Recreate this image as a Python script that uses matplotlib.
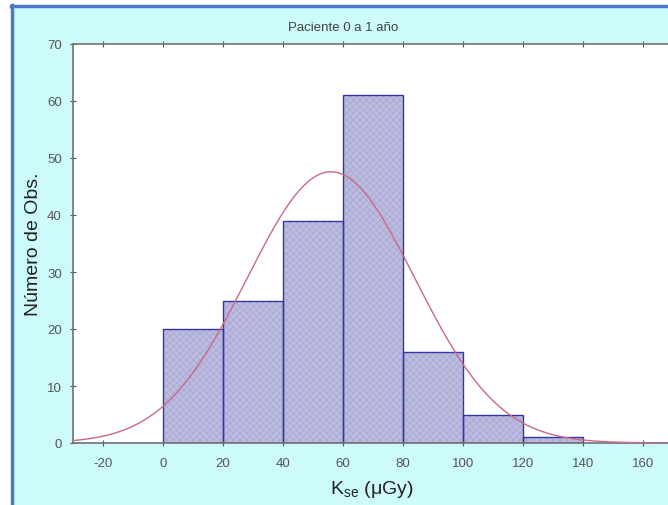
import numpy as np
import matplotlib.pyplot as plt
from matplotlib.patches import Rectangle

# Datos del histograma
bordes = [0, 20, 40, 60, 80, 100, 120]
conteos = [20, 25, 39, 61, 16, 5, 1]
ancho = 20
# Ajuste normal esperado
media = 56
desv = 28
n_total = sum(conteos)

xticks = [-20, 0, 20, 40, 60, 80, 100, 120, 140, 160]
yticks = [0, 10, 20, 30, 40, 50, 60, 70]

plt.rcParams['font.family'] = ['Liberation Sans', 'DejaVu Sans']
plt.rcParams['axes.unicode_minus'] = False
plt.rcParams['hatch.linewidth'] = 0.5

W, H = 668, 506
fig = plt.figure(figsize=(W / 100, H / 100), dpi=100, facecolor='white')

# Panel de fondo cian con borde azul arriba e izquierda
fig.patches.append(Rectangle((12 / W, 0), 1, 1 - 7 / H, transform=fig.transFigure,
                             facecolor='#cdfafa', edgecolor='none', zorder=-2))
fig.lines.append(plt.Line2D([12.5 / W, 12.5 / W], [0, 1 - 6 / H], transform=fig.transFigure,
                            color='#4a7cc4', lw=2.5, zorder=-1))
fig.lines.append(plt.Line2D([11 / W, 1], [1 - 6.5 / H, 1 - 6.5 / H], transform=fig.transFigure,
                            color='#4a7cc4', lw=2.5, zorder=-1))

ax = fig.add_axes([73 / W, 1 - 444 / H, 600 / W, 399 / H])
ax.set_facecolor('white')

# relleno tramado claro y luego el contorno azul oscuro
ax.bar(bordes, conteos, width=ancho, align='edge', facecolor='#bcbce0',
       edgecolor='#a6a6d2', linewidth=0, hatch='xxxxx', zorder=2)
ax.bar(bordes, conteos, width=ancho, align='edge', fill=False,
       edgecolor='#3535a8', linewidth=1.0, zorder=2.5)

x = np.linspace(-30, 170, 400)
y = n_total * ancho / (desv * np.sqrt(2 * np.pi)) * np.exp(-(x - media) ** 2 / (2 * desv ** 2))
ax.plot(x, y, color='#c86a86', lw=1.0, zorder=3)

ax.set_xlim(-30, 170)
ax.set_ylim(0, 70)
ax.set_xticks(xticks)
ax.set_yticks(yticks)
ax.tick_params(direction='inout', length=4, width=0.8, colors='#555555',
               labelsize=9.5, top=True, right=True, pad=6)
ax.tick_params(axis='x', pad=8)
for s in ax.spines.values():
    s.set_color('#707070')
    s.set_linewidth(1.2)

ax.text(0.45, 1 + 17 / 399, 'Paciente 0 a 1 año', transform=ax.transAxes,
        ha='center', va='center', fontsize=9.5, color='#444444')
ax.set_ylabel('Número de Obs.', fontsize=14, color='#222222')
ax.yaxis.set_label_coords(-39 / 600, 0.5)
ax.set_xlabel(r'K$_{\mathregular{se}}$ ($\mathregular{\mu}$Gy)', fontsize=14, color='#222222')
ax.xaxis.set_label_coords(0.498, -46 / 399)
ax.xaxis.label.set_va('center')
ax.yaxis.label.set_va('center')

fig.savefig('out.png', dpi=100)
